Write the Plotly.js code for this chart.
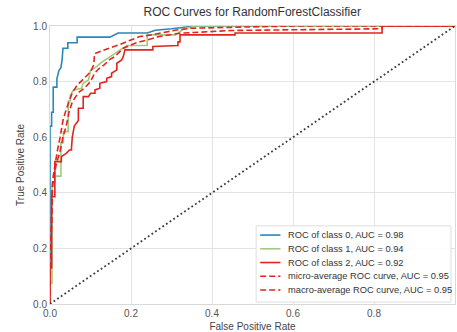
<!DOCTYPE html>
<html>
<head>
<meta charset="utf-8">
<script src="https://cdn.plot.ly/plotly-3.0.1.min.js"></script>
<style>html,body{margin:0;padding:0;background:#fff;}#chart{width:457px;height:332px;}</style>
</head>
<body>
<div id="chart"></div>
<script>
// ---- data ----
var chartTitle = "ROC Curves for RandomForestClassifier";
var xTitle = "False Positive Rate";
var yTitle = "True Positive Rate";
var tickVals = [0, 0.2, 0.4, 0.6, 0.8, 1.0];

var class0Name = "ROC of class 0, AUC = 0.98";
var class0Fpr = [0, 0, 0.004, 0.004, 0.008, 0.008, 0.017, 0.017, 0.022, 0.027, 0.030, 0.032, 0.044, 0.044, 0.067, 0.067, 0.148, 0.168, 0.240, 0.260, 0.300, 0.360, 1.0];
var class0Tpr = [0, 0.64, 0.64, 0.69, 0.69, 0.78, 0.78, 0.81, 0.84, 0.85, 0.88, 0.92, 0.92, 0.94, 0.94, 0.96, 0.96, 0.975, 0.975, 0.985, 0.99, 1.0, 1.0];

var class1Name = "ROC of class 1, AUC = 0.94";
var class1Fpr = [0, 0, 0.005, 0.005, 0.012, 0.012, 0.027, 0.027, 0.033, 0.033, 0.045, 0.045, 0.050, 0.050, 0.058, 0.078, 0.082, 0.095, 0.100, 0.115, 0.128, 0.148, 0.170, 0.190, 0.240, 0.240, 0.310, 0.330, 0.360, 1.0];
var class1Tpr = [0, 0.076, 0.076, 0.44, 0.44, 0.46, 0.46, 0.58, 0.58, 0.62, 0.62, 0.73, 0.73, 0.75, 0.77, 0.776, 0.794, 0.806, 0.84, 0.854, 0.87, 0.89, 0.91, 0.93, 0.93, 0.968, 0.968, 0.99, 1.0, 1.0];

var class2Name = "ROC of class 2, AUC = 0.92";
var class2Fpr = [0, 0, 0.004, 0.004, 0.012, 0.012, 0.028, 0.028, 0.040, 0.048, 0.053, 0.053, 0.055, 0.060, 0.070, 0.070, 0.082, 0.082, 0.095, 0.100, 0.111, 0.111, 0.123, 0.123, 0.140, 0.140, 0.152, 0.152, 0.165, 0.165, 0.177, 0.181, 0.185, 0.254, 0.254, 0.316, 0.316, 0.321, 0.321, 0.457, 0.457, 0.820, 0.820, 1.0];
var class2Tpr = [0, 0.13, 0.13, 0.386, 0.386, 0.512, 0.512, 0.53, 0.542, 0.554, 0.554, 0.56, 0.60, 0.64, 0.66, 0.704, 0.704, 0.746, 0.746, 0.758, 0.758, 0.77, 0.776, 0.794, 0.80, 0.812, 0.818, 0.83, 0.842, 0.866, 0.878, 0.89, 0.914, 0.914, 0.926, 0.93, 0.943, 0.943, 0.968, 0.968, 0.975, 0.975, 1.0, 1.0];

var microName = "micro-average ROC curve, AUC = 0.95";
var microFpr = [0, 0, 0.003, 0.005, 0.008, 0.012, 0.018, 0.025, 0.032, 0.040, 0.047, 0.055, 0.067, 0.084, 0.100, 0.108, 0.110, 0.130, 0.150, 0.170, 0.200, 0.222, 0.250, 0.280, 0.310, 0.350, 0.450, 0.600, 1.0];
var microTpr = [0, 0.14, 0.24, 0.40, 0.46, 0.50, 0.55, 0.60, 0.66, 0.70, 0.73, 0.76, 0.787, 0.81, 0.835, 0.86, 0.90, 0.912, 0.922, 0.932, 0.95, 0.962, 0.968, 0.976, 0.985, 0.992, 0.996, 1.0, 1.0];

var macroName = "macro-average ROC curve, AUC = 0.95";
var macroFpr = [0, 0, 0.004, 0.006, 0.010, 0.015, 0.025, 0.032, 0.040, 0.047, 0.055, 0.070, 0.084, 0.100, 0.110, 0.121, 0.133, 0.148, 0.160, 0.181, 0.210, 0.240, 0.270, 0.320, 0.450, 0.820, 0.820, 1.0];
var macroTpr = [0, 0.14, 0.30, 0.42, 0.46, 0.50, 0.55, 0.60, 0.64, 0.69, 0.727, 0.76, 0.775, 0.80, 0.83, 0.847, 0.859, 0.88, 0.89, 0.92, 0.938, 0.95, 0.962, 0.974, 0.984, 0.99, 1.0, 1.0];

var diagX = [0, 1];
var diagY = [0, 1];

// ---- styles ----
var blue = "#2a87b8", green = "#a2c97e", red = "#e0251f";
var lw = 1.6;
var dashStyle = "6px,3px";

var series = [
  {x: class0Fpr, y: class0Tpr, name: class0Name, color: blue, dash: "solid"},
  {x: class1Fpr, y: class1Tpr, name: class1Name, color: green, dash: "solid"},
  {x: class2Fpr, y: class2Tpr, name: class2Name, color: red, dash: "solid"},
  {x: microFpr, y: microTpr, name: microName, color: red, dash: dashStyle},
  {x: macroFpr, y: macroTpr, name: macroName, color: red, dash: dashStyle}
];

var traces = series.map(function (s) {
  return {x: s.x, y: s.y, name: s.name, mode: "lines", showlegend: false,
          line: {color: s.color, width: lw, dash: s.dash}};
});
traces.push({x: diagX, y: diagY, mode: "lines", showlegend: false, hoverinfo: "skip",
             line: {color: "#3a3a3a", width: 1.8, dash: "1.8px,2.6px"}});

// ---- legend drawn as a box in the lower right of the plot area ----
var fontFam = "Liberation Sans, Arial, sans-serif";
var legBox = {x0: 0.509, x1: 0.990, y0: 0.007, y1: 0.281};
var legTop = 0.248, legStep = 0.0494;
var shapes = [{type: "rect", xref: "paper", yref: "paper", x0: legBox.x0, x1: legBox.x1, y0: legBox.y0, y1: legBox.y1,
               fillcolor: "rgba(255,255,255,0.9)", line: {color: "#dedede", width: 1}, layer: "above"}];
var annotations = [];
series.forEach(function (s, i) {
  var yy = legTop - i * legStep;
  shapes.push({type: "line", xref: "paper", yref: "paper", x0: 0.519, x1: 0.569, y0: yy, y1: yy,
               line: {color: s.color, width: lw, dash: s.dash}, layer: "above"});
  annotations.push({xref: "paper", yref: "paper", x: 0.583, y: yy, xanchor: "left", yanchor: "middle",
                    text: s.name, showarrow: false, font: {family: fontFam, size: 9.3, color: "#333333"}});
});

var axisCommon = {
  range: [0, 1],
  tickvals: tickVals,
  tickformat: ".1f",
  showgrid: true,
  gridcolor: "#e3e3e3",
  gridwidth: 1,
  zeroline: false,
  showline: true,
  linecolor: "#d9d9d9",
  linewidth: 1,
  mirror: true,
  ticks: "",
  tickfont: {family: fontFam, size: 10, color: "#555555"},
  fixedrange: true
};

var layout = {
  width: 457,
  height: 332,
  margin: {l: 50, r: 2, t: 26, b: 28, pad: 0},
  paper_bgcolor: "#ffffff",
  plot_bgcolor: "#ffffff",
  font: {family: fontFam, color: "#333333"},
  title: {text: chartTitle, x: 0.552, xanchor: "center", y: 0.978, yanchor: "top", font: {size: 12, color: "#333333"}},
  xaxis: Object.assign({}, axisCommon, {title: {text: xTitle, standoff: 4, font: {size: 10, color: "#444444"}}}),
  yaxis: Object.assign({}, axisCommon, {title: {text: yTitle, standoff: 6, font: {size: 10, color: "#444444"}}}),
  showlegend: false,
  shapes: shapes,
  annotations: annotations
};

Plotly.newPlot("chart", traces, layout, {displayModeBar: false, staticPlot: true});
</script>
</body>
</html>
